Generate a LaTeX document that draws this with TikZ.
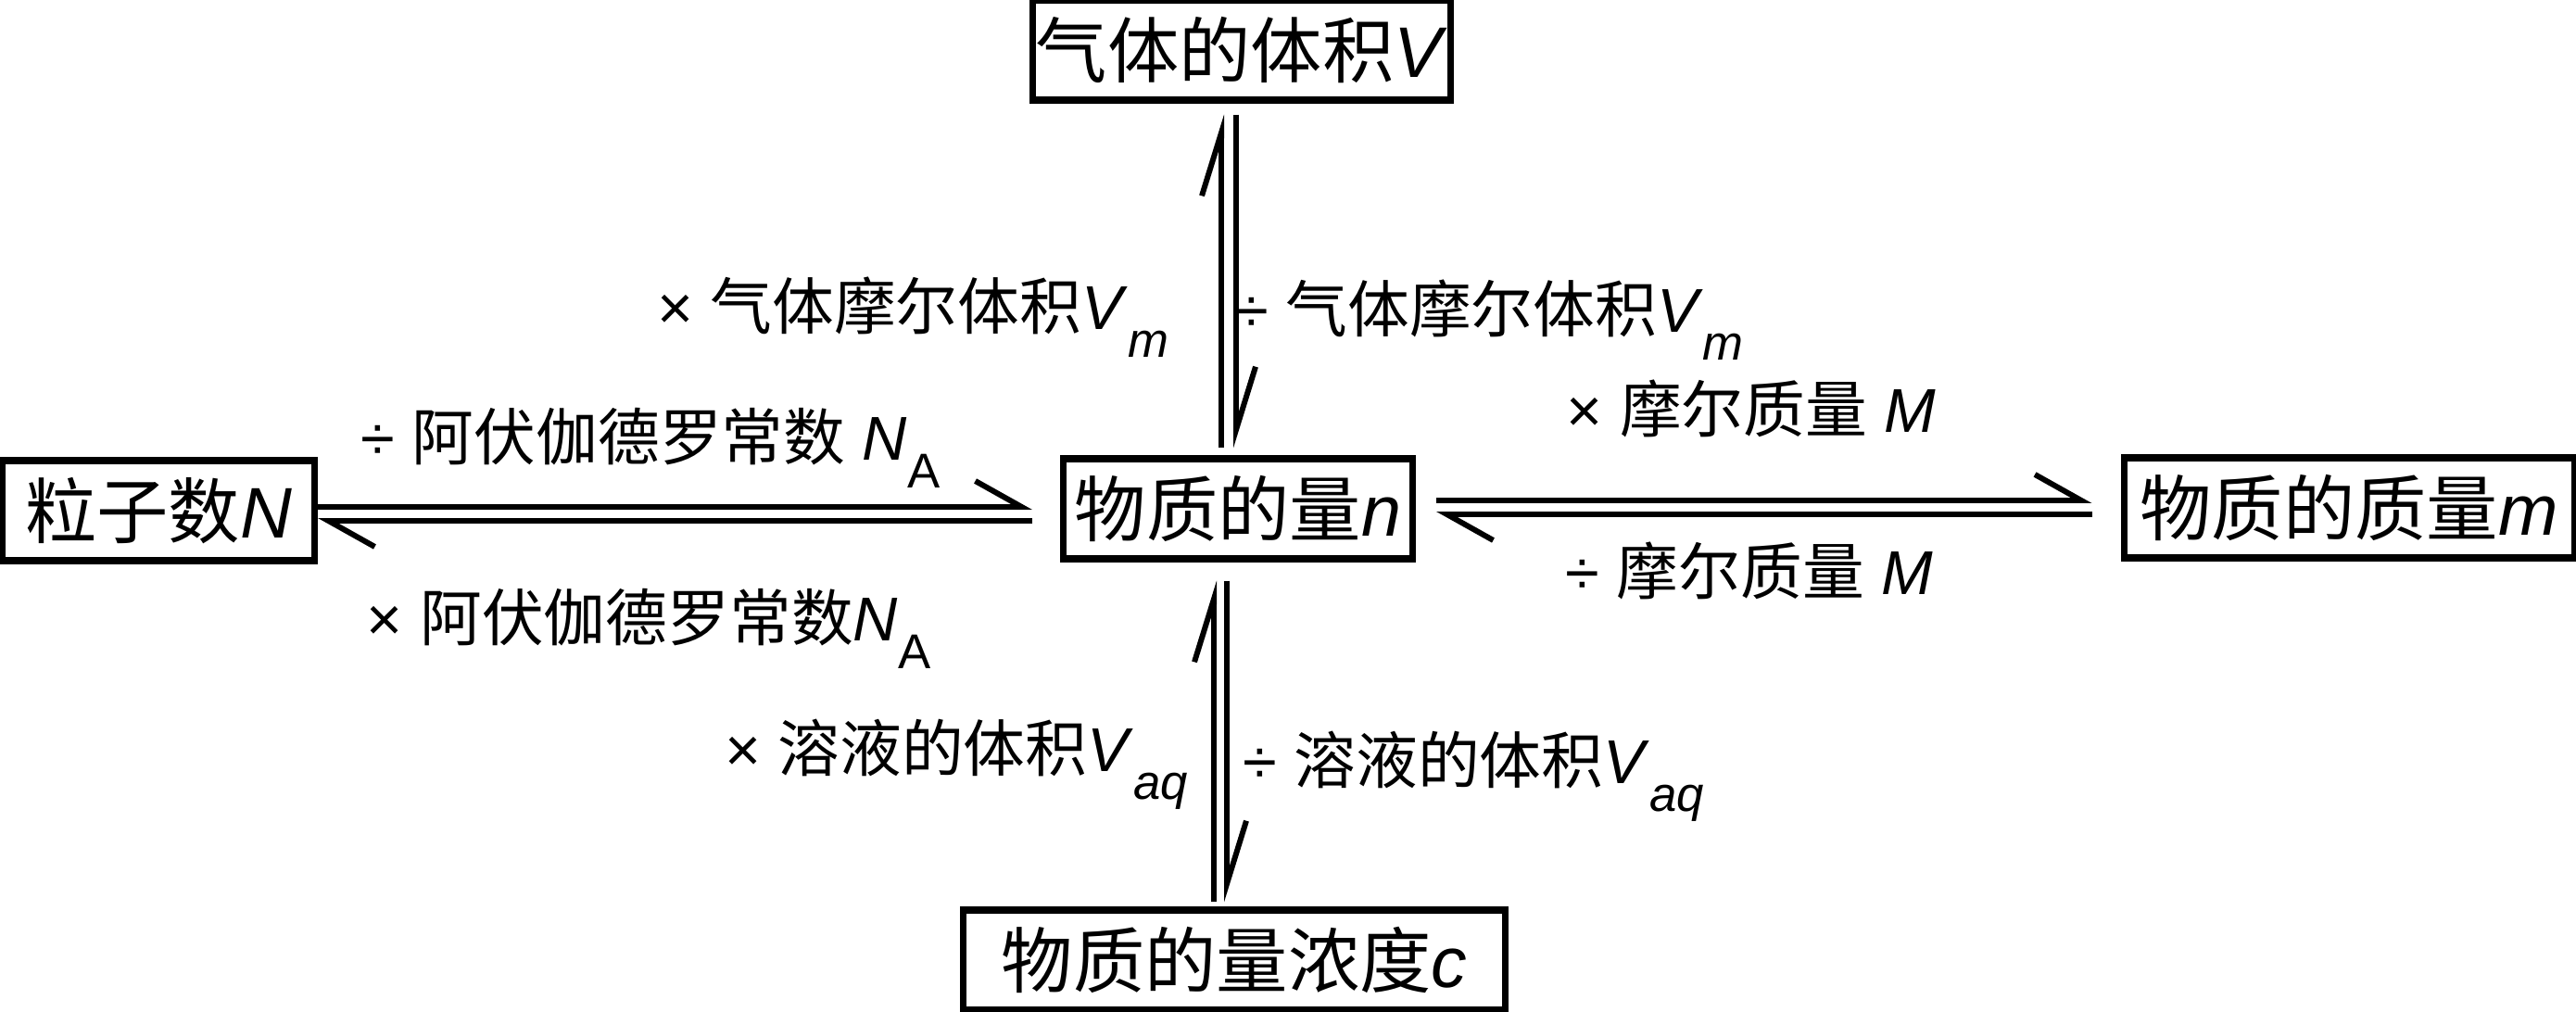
\documentclass[tikz,border=0pt]{standalone}
\usepackage{fontspec}
\setmainfont{Liberation Sans}
\newfontfamily\cjk{Noto Sans CJK SC}
\usetikzlibrary{arrows.meta}
\newcommand{\low}[1]{\raisebox{-0.45em}{\fontsize{15}{15}\selectfont #1}}

\begin{document}
\begin{tikzpicture}[
            > = {Straight Barb[harpoon,length=0.5cm,width=0.56cm]}, % half arrow head
            vbarb/.style = {-{Straight Barb[harpoon,length=0.68cm,width=0.42cm]}},
            line width = 1.7pt, % line style
            box/.style = {shape=rectangle,draw=black,line width=2pt,minimum height=1.08cm,inner sep=1pt,font=\fontsize{22}{24}\selectfont},
            lab/.style = {font=\fontsize{19}{21}\selectfont}
        ]
\useasboundingbox (0,0) rectangle (27.8,10.91);

\node[box,minimum width=4.46cm] (V) at (13.40,10.37) {{\cjk 气体的体积}\textit{V}};
\node[box,minimum width=3.37cm] (N) at (1.71,5.40) {{\cjk 粒子数}\textit{N}};
\node[box,minimum width=3.77cm] (n) at (13.36,5.42) {{\cjk 物质的量}\textit{n}};
\node[box,minimum width=4.86cm] (m) at (25.35,5.43) {{\cjk 物质的质量}\textit{m}};
\node[box,minimum width=5.85cm] (c) at (13.32,0.55) {{\cjk 物质的量浓度}\textit{c}};

 % N <-> n
 \draw[->,shorten >=0.3cm] ([yshift=0.04cm]N.east) -- ([yshift=0.04cm]N.east -| n.west);
 \draw[->,shorten <=0.3cm] ([yshift=-0.11cm]N.east -| n.west) -- ([yshift=-0.11cm]N.east);
 % n <-> m
 \draw[->,shorten <=0.22cm,shorten >=0.31cm] ([yshift=0.09cm]n.east) -- ([yshift=0.09cm]n.east -| m.west);
 \draw[->,shorten <=0.31cm,shorten >=0.22cm] ([yshift=-0.06cm]n.east -| m.west) -- ([yshift=-0.06cm]n.east);
 % n <-> V
 \draw[vbarb,shorten <=0.08cm,shorten >=0.12cm] ([xshift=-0.18cm]n.north) -- ([xshift=-0.18cm]n.north |- V.south);
 \draw[vbarb,shorten <=0.12cm,shorten >=0.08cm] ([xshift=-0.02cm]n.north |- V.south) -- ([xshift=-0.02cm]n.north);
 % c <-> n
 \draw[vbarb,shorten <=0.05cm,shorten >=0.2cm] ([xshift=-0.22cm]c.north) -- ([xshift=-0.22cm]c.north |- n.south);
 \draw[vbarb,shorten <=0.2cm,shorten >=0.05cm] ([xshift=-0.08cm]c.north |- n.south) -- ([xshift=-0.08cm]c.north);

\node[lab] (dNA) at (7.02,6.08) {÷ {\cjk 阿伏伽德罗常数} \textit{N}\low{A}};
\node[lab] (mNA) at (7.00,4.13) {× {\cjk 阿伏伽德罗常数}\textit{N}\low{A}};
\node[lab] (mVm) at (9.85,7.49) {× {\cjk 气体摩尔体积}\textit{V}\low{\textit{m}}};
\node[lab] (dVm) at (16.07,7.46) {÷ {\cjk 气体摩尔体积}\textit{V}\low{\textit{m}}};
\node[lab] (mM) at (18.90,6.50) {× {\cjk 摩尔质量} \textit{M}};
\node[lab] (dM) at (18.88,4.75) {÷ {\cjk 摩尔质量} \textit{M}};
\node[lab] (mVaq) at (10.32,2.66) {× {\cjk 溶液的体积}\textit{V}\low{\textit{aq}}};
\node[lab] (dVaq) at (15.90,2.53) {÷ {\cjk 溶液的体积}\textit{V}\low{\textit{aq}}};
\end{tikzpicture}
\end{document}
